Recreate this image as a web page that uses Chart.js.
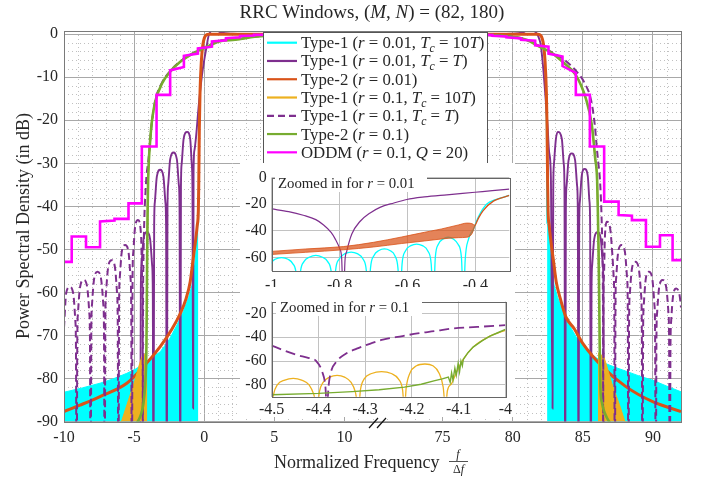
<!DOCTYPE html>
<html><head><meta charset="utf-8">
<script src="https://cdn.jsdelivr.net/npm/chart.js@4.4.1/dist/chart.umd.min.js"></script>
<style>
html,body{margin:0;padding:0;background:#fff;}
#wrap{position:relative;width:702px;height:478px;overflow:hidden;background:#fff;}
canvas{position:absolute;display:block;}
</style></head><body>
<div id="wrap">
<canvas id="main" width="702" height="478" style="left:0;top:0;width:702px;height:478px"></canvas>
<canvas id="in1" width="275" height="128" style="left:240px;top:163px;width:275px;height:128px"></canvas>
<canvas id="in2" width="275" height="130" style="left:240px;top:287px;width:275px;height:130px"></canvas>
</div>
<script>
// ===================== DATA (frequency f in units of Δf, PSD in dB) =====================
const xTickValues = [-10, -5, 0, 5, 10, 75, 80, 85, 90];
const yTickValues = [0, -10, -20, -30, -40, -50, -60, -70, -80, -90];

// Type-1 (r=0.01, Tc=10T): dense side-lobes drawn as filled envelope + main-lobe edges
const cyanFillLeft = [[-10,-83.2],[-8.7,-82.2],[-7.43,-81.1],[-6.5,-80.1],[-5.52,-78.8],[-4.9,-77.8],[-4.45,-76.9],[-4.0,-75.8],[-3.14,-73.8],[-2.5,-71.0],[-1.95,-67.6],[-1.5,-64.5],[-1.12,-61.2],[-0.87,-58.3],[-0.77,-55.8],[-0.67,-53.4],[-0.57,-49.8],[-0.47,-44.7],[-0.42,-44]];
const cyanFillRight = [[82.45,-44],[82.55,-44.7],[82.65,-49.8],[82.75,-53.4],[82.85,-55.8],[82.95,-58.3],[83.2,-61.2],[83.6,-64.5],[84.0,-67.4],[84.5,-70.2],[85.2,-73.3],[86.0,-75.3],[86.6,-76.5],[87.3,-77.4],[88.07,-78.3],[89.0,-79.4],[89.98,-80.4],[91.0,-81.8],[92,-83.1]];
const cyanLineLeft = [[-0.42,-44],[-0.406,-38.8],[-0.391,-29.4],[-0.367,-20],[-0.3,-13.4],[-0.2,-6],[-0.1,-2.5],[0,-1],[0.1,-0.3],[0.3,0],[12,0]];
const cyanLineRight = [[70,0],[81.8,0],[82.0,-0.3],[82.1,-1],[82.2,-2.5],[82.3,-6],[82.38,-13.4],[82.41,-20],[82.43,-29.4],[82.44,-38.8],[82.45,-44]];

// Type-1 (r=0.01, Tc=T)
const purpleLeft = [[-4.57,-110],[-4.52,-59],[-4.47,-53.5],[-4.33,-47.6],[-4.1,-46],[-3.86,-47.6],[-3.72,-53.5],[-3.67,-59],[-3.62,-110],
  [-3.57,-44.5],[-3.52,-39],[-3.38,-33.1],[-3.14,-31.5],[-2.91,-33.1],[-2.77,-39],[-2.72,-44.5],[-2.67,-110],
  [-2.62,-40.5],[-2.57,-35],[-2.43,-29.1],[-2.19,-27.5],[-1.95,-29.1],[-1.81,-35],[-1.76,-40.5],[-1.71,-110],
  [-1.66,-35.7],[-1.61,-30.2],[-1.47,-24.3],[-1.22,-22.7],[-1.0,-24.3],[-0.89,-30.2],[-0.84,-35.7],[-0.79,-87],
  [-0.76,-32],[-0.7,-27],[-0.57,-23.4],[-0.41,-17.2],[-0.16,-9.5],[0,-6],[0.19,-2.5],[0.3,-0.5],[0.45,0.6],[0.7,1.2],[1.2,0.4],[2,0.1],[4,0],[12,0]];
const purpleRight = [[70,0],[78,0],[79.9,0.1],[80.7,0.4],[81.2,1.2],[81.5,0.8],[81.75,0],[81.9,-1.2],[82.0,-2.5],[82.15,-7],[82.31,-13.4],[82.48,-21],[82.6,-27.5],[82.72,-33],[82.84,-87],
  [82.89,-35.7],[82.94,-30.2],[83.08,-24.3],[83.22,-22.7],[83.5,-24.3],[83.64,-30.2],[83.69,-35.7],[83.74,-110],
  [83.79,-40.7],[83.84,-35.2],[83.98,-29.3],[84.21,-27.7],[84.45,-29.3],[84.59,-35.2],[84.64,-40.7],[84.69,-110],
  [84.74,-44.3],[84.79,-38.8],[84.92,-32.9],[85.13,-31.3],[85.35,-32.9],[85.47,-38.8],[85.52,-44.3],[85.57,-110],
  [85.62,-59],[85.67,-53.5],[85.81,-47.6],[86.05,-46],[86.28,-47.6],[86.42,-53.5],[86.47,-59],[86.52,-110]];

// Type-2 (r=0.01)
const orangeLeft = [[-10,-87.7],[-8.86,-86.2],[-7.43,-84.2],[-5.52,-81.1],[-4.34,-77.3],[-3.14,-72.6],[-2.3,-68.5],[-1.71,-64.9],[-1.3,-61.5],[-1.0,-57.5],[-0.8,-52.5],[-0.6,-47.5],[-0.5,-44.5],[-0.42,-41],[-0.39,-35],[-0.35,-22],[-0.3,-13.5],[-0.2,-6],[-0.1,-2.5],[0,-1],[0.1,-0.3],[0.3,0],[12,0]];
const orangeRight = [[70,0],[81.8,0],[82.0,-0.3],[82.1,-1],[82.2,-2.5],[82.3,-6],[82.4,-13.5],[82.45,-22],[82.49,-35],[82.52,-41],[82.6,-44.5],[82.7,-47.5],[82.9,-52.5],[83.1,-57.5],[83.4,-61.5],[83.79,-65.7],[84.4,-68.5],[84.98,-71.8],[86.4,-77.3],[88.07,-81.9],[89.98,-85.4],[92,-87.7]];

// Type-1 (r=0.1, Tc=10T): filled side-lobe region + main-lobe line
const yellowFillLeft = [[-6.1,-92],[-5.5,-86],[-5.0,-81],[-4.6,-76.5],[-4.45,-75],[-4.3,-74.5],[-4.15,-74],[-4.06,-74]];
const yellowFillRight = [[86.08,-74],[86.3,-74.5],[86.5,-75],[86.65,-76.5],[87.05,-81],[87.6,-86],[88.2,-92]];
const yellowLineLeft = [[-4.1,-62],[-4.069,-48.3],[-4.034,-39.3],[-4.0,-34.2],[-3.95,-29.5],[-3.85,-24.5],[-3.74,-20.5],[-3.5,-15.7],[-3.0,-11.4],[-2.43,-8.7],[-1.71,-6.4],[-0.76,-4.4],[0.19,-2.9],[1.14,-1.6],[2.2,-1.3],[3.6,-0.6],[5,-0.2],[7,-0.05],[12,0]];
const yellowLineRight = [[70,0],[75,0],[77,-0.05],[78.5,-0.2],[79.9,-0.6],[80.96,-1.3],[81.9,-2.9],[82.86,-4.5],[83.55,-6.4],[84.5,-9.5],[85.21,-14.9],[85.64,-21.1],[85.88,-28.8],[86.02,-34],[86.07,-41],[86.12,-50],[86.15,-62]];

// Type-1 (r=0.1, Tc=T) dashed
const dashedLeft = [[-10,-68.2],[-9.85,-60.3],[-9.59,-58.7],[-9.34,-60.3],[-9.2,-66.2],[-9.15,-71.7],[-9.1,-110],
  [-9.05,-70.1],[-9.0,-64.6],[-8.85,-58.7],[-8.6,-57.1],[-8.35,-58.7],[-8.2,-64.6],[-8.15,-70.1],[-8.1,-110],
  [-8.05,-68.2],[-8.0,-62.7],[-7.85,-56.8],[-7.61,-55.2],[-7.36,-56.8],[-7.2,-62.7],[-7.15,-68.2],[-7.1,-110],
  [-7.05,-65.5],[-7.0,-60],[-6.85,-54.1],[-6.61,-52.5],[-6.37,-54.1],[-6.22,-60],[-6.17,-65.5],[-6.12,-110],
  [-6.07,-62],[-6.02,-56.5],[-5.88,-50.6],[-5.64,-49],[-5.4,-50.6],[-5.26,-56.5],[-5.21,-62],[-5.16,-110],
  [-5.11,-56.2],[-5.06,-50.7],[-4.93,-44.8],[-4.72,-43.2],[-4.5,-47],[-4.447,-54.8],[-4.405,-59.9],[-4.39,-69],[-4.38,-110],
  [-4.37,-70],[-4.36,-60],[-4.318,-49.6],[-4.262,-41.9],[-4.188,-36.7],[-4.118,-32.9],[-4.0,-29.8],[-3.9,-26.5],[-3.75,-21],[-3.5,-15.5],[-3.0,-11.2],[-2.43,-8.6],[-1.71,-6.3],[-0.76,-4.3],[0.19,-2.8],[1.14,-1.5],[2.2,-1.2],[3.6,-0.55],[5,-0.2],[7,-0.05],[12,0]];
const dashedRight = [[70,0],[75,0],[77,-0.05],[78.5,-0.2],[79.9,-0.55],[80.96,-1.2],[81.91,-2.8],[82.86,-4.3],[83.81,-6.3],[84.53,-8.6],[85.1,-11.2],[85.6,-15.5],[85.85,-21],[86.0,-26.5],[86.1,-29.8],[86.2,-32.9],[86.27,-36.7],[86.33,-41.9],[86.39,-49.6],[86.43,-60],[86.44,-70],[86.45,-110],
  [86.46,-69],[86.475,-59.9],[86.52,-54.8],[86.57,-47.5],[86.72,-43.6],[86.95,-45.2],[87.1,-51],[87.2,-56.5],[87.24,-62],[87.28,-110],
  [87.33,-62],[87.38,-56.5],[87.52,-50.6],[87.76,-49],[88.0,-50.6],[88.15,-56.5],[88.2,-62],[88.25,-110],
  [88.3,-65.9],[88.35,-60.4],[88.5,-54.5],[88.74,-52.9],[88.99,-54.5],[89.15,-60.4],[89.2,-65.9],[89.25,-110],
  [89.3,-68.2],[89.35,-62.7],[89.49,-56.8],[89.71,-55.2],[89.95,-56.8],[90.1,-62.7],[90.15,-68.2],[90.2,-110],
  [90.25,-70.1],[90.3,-64.6],[90.45,-58.7],[90.68,-57.1],[90.94,-58.7],[91.1,-64.6],[91.15,-70.1],[91.2,-110],
  [91.25,-72.1],[91.3,-66.6],[91.44,-60.7],[91.66,-59.1],[91.9,-60.7],[92,-63.5]];

// Type-2 (r=0.1)
const greenLeft = [[-5.2,-92],[-4.5,-88.3],[-4.33,-85.7],[-4.22,-82],[-4.15,-77],[-4.12,-72],[-4.1,-64],[-4.08,-56],[-4.05,-45],[-4.03,-39.5],[-4.0,-34],[-3.95,-29.5],[-3.85,-24.5],[-3.74,-20.5],[-3.5,-15.7],[-3.0,-11.4],[-2.43,-8.7],[-1.71,-6.4],[-0.76,-4.4],[0.19,-2.9],[1.14,-1.6],[2.2,-1.3],[3.6,-0.6],[5,-0.2],[7,-0.05],[12,0]];
const greenRight = [[70,0],[75,0],[77,-0.05],[78.5,-0.2],[79.9,-0.6],[80.96,-1.3],[81.9,-2.9],[82.86,-4.5],[83.55,-6.4],[84.5,-9.5],[85.21,-14.9],[85.64,-21.1],[85.88,-28.8],[86.02,-34],[86.07,-41],[86.12,-50],[86.17,-62],[86.2,-72],[86.25,-82],[86.35,-85.5],[86.6,-88.3],[87.3,-92]];

// ODDM (r=0.1, Q=20) staircase
const oddmLeft = [[-10,-52.9],[-9.45,-52.9],[-9.45,-47],[-8.43,-47],[-8.43,-49.5],[-7.43,-49.5],[-7.43,-43.5],[-6.4,-43.3],[-6.4,-42.9],[-5.4,-42.9],[-5.4,-39.3],[-4.45,-39.3],[-4.45,-26.1],[-3.4,-26.1],[-3.4,-14.1],[-2.43,-14.1],[-2.43,-8.4],[-1.45,-7.6],[-1.45,-5.0],[-0.45,-4.5],[-0.45,-3.3],[0.55,-2.9],[0.55,-1.7],[1.55,-1.4],[1.55,-0.9],[2.55,-0.7],[2.55,-0.4],[3.55,-0.3],[3.55,-0.15],[4.55,-0.1],[4.55,0],[12,0]];
const oddmRight = [[70,0],[77.55,0],[77.55,-0.1],[78.55,-0.2],[78.55,-0.35],[79.55,-0.5],[79.55,-0.7],[80.6,-1.0],[80.6,-1.3],[81.6,-1.5],[81.6,-2.6],[82.55,-2.9],[82.55,-4.5],[83.55,-5.2],[83.55,-7.4],[84.5,-9.0],[84.5,-14.1],[85.5,-14.1],[85.5,-26.1],[86.52,-26.1],[86.52,-38.9],[87.55,-38.9],[87.55,-42],[88.5,-42.2],[88.5,-43.2],[89.5,-43.2],[89.5,-49.4],[90.5,-49.4],[90.5,-46.7],[91.4,-46.7],[91.4,-52.5],[92,-52.5]];

// ---------- Inset 1: zoom for r = 0.01 ----------
const in1XTicks = [-1, -0.8, -0.6, -0.4];
const in1YTicks = [0, -20, -40, -60];
const in1Purple = [[-1,-23.5],[-0.95,-25.5],[-0.907,-28.2],[-0.87,-31.5],[-0.848,-35.3],[-0.825,-41],[-0.813,-45.9],[-0.8,-53],[-0.794,-60],[-0.789,-95],[-0.784,-62],[-0.779,-55.3],[-0.764,-42.3],[-0.74,-32.9],[-0.71,-26.5],[-0.681,-22.3],[-0.64,-19],[-0.602,-16.4],[-0.55,-14.5],[-0.484,-12.9],[-0.401,-11],[-0.35,-9.8],[-0.3,-8.7]];
const in1Cyan = [[-1.02,-95],[-1.013,-72],[-1.0,-63.5],[-0.99,-61.2],[-0.971,-60],[-0.952,-61.2],[-0.938,-64.5],[-0.928,-72],[-0.922,-95],[-0.916,-72],[-0.905,-63],[-0.888,-59.5],[-0.87,-58.3],[-0.852,-59.5],[-0.835,-63],[-0.824,-72],[-0.818,-95],[-0.812,-70],[-0.801,-61],[-0.784,-57],[-0.766,-55.8],[-0.748,-57],[-0.731,-61],[-0.721,-70],[-0.715,-95],[-0.709,-68],[-0.699,-58.5],[-0.684,-54.6],[-0.668,-53.4],[-0.652,-54.6],[-0.637,-58.5],[-0.628,-68],[-0.622,-95],[-0.616,-65],[-0.606,-55],[-0.59,-51],[-0.573,-49.8],[-0.556,-51],[-0.54,-55],[-0.53,-65],[-0.524,-95],[-0.518,-60],[-0.509,-50],[-0.495,-46],[-0.48,-44.7],[-0.465,-46],[-0.451,-50],[-0.441,-60],[-0.435,-95],[-0.43,-62],[-0.42,-46],[-0.406,-38.8],[-0.391,-29.4],[-0.367,-20],[-0.34,-16.5],[-0.3,-13.4]];
const in1OrangeTop = [[-1,-55.3],[-0.9,-53.5],[-0.789,-51.7],[-0.7,-48.5],[-0.617,-44.5],[-0.55,-41],[-0.5,-38.5],[-0.45,-35.5],[-0.425,-34.1],[-0.41,-34.5],[-0.401,-36]];
const in1OrangeBottom = [[-1,-57.6],[-0.9,-56],[-0.789,-54.1],[-0.7,-52],[-0.617,-49.4],[-0.55,-47.5],[-0.5,-46],[-0.45,-45],[-0.425,-44.7],[-0.41,-42],[-0.401,-36]];
const in1OrangeEdge = [[-0.401,-36],[-0.39,-30],[-0.377,-24.7],[-0.347,-17.6],[-0.3,-13.4]];

// ---------- Inset 2: zoom for r = 0.1 ----------
const in2XTicks = [-4.5, -4.4, -4.3, -4.2, -4.1, -4];
const in2YTicks = [-20, -40, -60, -80];
const in2Dashed = [[-4.5,-47.1],[-4.447,-54.8],[-4.42,-57.5],[-4.405,-59.9],[-4.392,-68.9],[-4.385,-81.9],[-4.382,-100],[-4.378,-80],[-4.374,-70.2],[-4.36,-59.9],[-4.34,-53.5],[-4.318,-49.6],[-4.29,-45.5],[-4.262,-41.9],[-4.22,-39],[-4.188,-36.7],[-4.15,-34.8],[-4.118,-32.9],[-4.06,-31.3],[-4.0,-29.8]];
const in2Yellow = [[-4.5,-100],[-4.496,-88],[-4.488,-80],[-4.472,-76],[-4.454,-74.6],[-4.436,-76],[-4.42,-80],[-4.41,-88],[-4.402,-100],[-4.398,-86],[-4.39,-78],[-4.376,-73.5],[-4.36,-72],[-4.344,-73.5],[-4.33,-78],[-4.321,-86],[-4.314,-100],[-4.31,-84],[-4.302,-75],[-4.286,-70.5],[-4.265,-68.9],[-4.244,-70.5],[-4.229,-75],[-4.22,-84],[-4.216,-100],[-4.212,-82],[-4.204,-70],[-4.19,-64],[-4.172,-62.5],[-4.155,-64],[-4.142,-70],[-4.133,-82],[-4.128,-100],[-4.124,-85],[-4.115,-79],[-4.104,-68.9],[-4.09,-58.6],[-4.069,-48.3],[-4.034,-39.3],[-4.0,-34.2]];
const in2Green = [[-4.5,-88.3],[-4.4,-87.2],[-4.328,-85.7],[-4.27,-84.2],[-4.216,-81.9],[-4.18,-79.5],[-4.153,-76.7],[-4.135,-75],[-4.122,-73.5],[-4.118,-78],[-4.115,-70],[-4.112,-76],[-4.108,-66],[-4.105,-72],[-4.101,-62],[-4.098,-69],[-4.095,-60],[-4.092,-64],[-4.09,-58.6],[-4.08,-53],[-4.069,-48.3],[-4.05,-43],[-4.034,-39.3],[-4.015,-36],[-4.0,-33.4]];

// legend labels (rich text parts: n = normal, i = italic, s = italic subscript)
const legendLabels = [
  [['Type-1 (','n'],['r','i'],[' = 0.01, ','n'],['T','i'],['c','s'],[' = 10','n'],['T','i'],[')','n']],
  [['Type-1 (','n'],['r','i'],[' = 0.01, ','n'],['T','i'],['c','s'],[' = ','n'],['T','i'],[')','n']],
  [['Type-2 (','n'],['r','i'],[' = 0.01)','n']],
  [['Type-1 (','n'],['r','i'],[' = 0.1, ','n'],['T','i'],['c','s'],[' = 10','n'],['T','i'],[')','n']],
  [['Type-1 (','n'],['r','i'],[' = 0.1, ','n'],['T','i'],['c','s'],[' = ','n'],['T','i'],[')','n']],
  [['Type-2 (','n'],['r','i'],[' = 0.1)','n']],
  [['ODDM (','n'],['r','i'],[' = 0.1, ','n'],['Q','i'],[' = 20)','n']]
];
const legendColors = ['#00FFFF','#7E2F8E','#D95319','#EDB120','#7E2F8E','#77AC30','#FF00FF'];
const legendDashed = [false,false,false,false,true,false,false];

// ===================== RENDERING =====================
const FONT = "'Liberation Serif', 'Times New Roman', serif";
const TXT = '#262626';
const BREAK_OFFSET = 58; // right segment 70..92 drawn right after left segment -10..12
const disp = f => (f > 40 ? f - BREAK_OFFSET : f);
const toXY = arr => arr.map(([f, d]) => ({x: disp(f), y: d}));

function fnt(style, size) { return (style === 'i' || style === 's' ? 'italic ' : '') + size + 'px ' + FONT; }
function drawRich(ctx, parts, x, y, size, align) {
  let w = 0;
  const ws = parts.map(p => { const sz = p[1] === 's' ? size * 0.7 : size; ctx.font = fnt(p[1], sz); const m = ctx.measureText(p[0]).width; w += m; return m; });
  let cx = align === 'center' ? x - w / 2 : (align === 'right' ? x - w : x);
  ctx.textAlign = 'left'; ctx.textBaseline = 'alphabetic';
  parts.forEach((p, i) => { const sz = p[1] === 's' ? size * 0.7 : size; ctx.font = fnt(p[1], sz); ctx.fillText(p[0], cx, y + (p[1] === 's' ? size * 0.22 : 0)); cx += ws[i]; });
  return w;
}

function line(data, color, width, order, extra) {
  return Object.assign({data: toXY(data), borderColor: color, backgroundColor: color, borderWidth: width,
    pointRadius: 0, pointHoverRadius: 0, showLine: true, fill: false, cubicInterpolationMode: 'monotone', order: order}, extra || {});
}

const majorDisp = xTickValues.map(disp);

const mainDeco = {
  id: 'mainDeco',
  beforeDatasetsDraw(chart) {
    const {ctx, chartArea: a, scales: {x, y}} = chart;
    ctx.save();
    ctx.strokeStyle = '#c0c0c0'; ctx.lineWidth = 1; ctx.setLineDash([1, 3]);
    for (let d = -9; d < 34; d++) {
      if (majorDisp.includes(d)) continue;
      const px = Math.round(x.getPixelForValue(d)) + 0.5;
      ctx.beginPath(); ctx.moveTo(px, a.top); ctx.lineTo(px, a.bottom); ctx.stroke();
    }
    for (let v = -88; v < 0; v += 2) {
      if (v % 10 === 0) continue;
      const py = Math.round(y.getPixelForValue(v)) + 0.5;
      ctx.beginPath(); ctx.moveTo(a.left, py); ctx.lineTo(a.right, py); ctx.stroke();
    }
    ctx.restore();
  },
  afterDraw(chart) {
    const {ctx, chartArea: a} = chart;
    ctx.save();
    // axes box
    ctx.strokeStyle = '#7a7a7a'; ctx.lineWidth = 1; ctx.setLineDash([]);
    ctx.strokeRect(Math.round(a.left) + 0.5, Math.round(a.top) + 0.5, Math.round(a.right - a.left), Math.round(a.bottom - a.top));
    // axis break marks
    ctx.strokeStyle = '#111'; ctx.lineWidth = 1.2;
    ctx.beginPath(); ctx.moveTo(369, 428); ctx.lineTo(378, 418); ctx.moveTo(377, 428); ctx.lineTo(386, 418); ctx.stroke();
    // title
    ctx.fillStyle = TXT;
    drawRich(ctx, [['RRC Windows, (','n'],['M','i'],[', ','n'],['N','i'],[') = (82, 180)','n']], 372, 18, 19, 'center');
    // y label
    ctx.save(); ctx.translate(29, 226); ctx.rotate(-Math.PI / 2);
    ctx.font = fnt('n', 18); ctx.textAlign = 'center'; ctx.textBaseline = 'alphabetic';
    ctx.fillText('Power Spectral Density (in dB)', 0, 0);
    ctx.restore();
    // x label with fraction
    ctx.font = fnt('n', 18); ctx.textAlign = 'left'; ctx.textBaseline = 'alphabetic';
    ctx.fillText('Normalized Frequency', 274, 468);
    ctx.font = fnt('i', 12); ctx.textAlign = 'center';
    ctx.fillText('f', 458, 458);
    ctx.lineWidth = 0.8; ctx.strokeStyle = TXT;
    ctx.beginPath(); ctx.moveTo(449, 461.5); ctx.lineTo(468, 461.5); ctx.stroke();
    drawRich(ctx, [['Δ','n'],['f','i']], 458.5, 473, 12, 'center');
    // legend
    const lx = 263.5, ly = 32.5, lw = 224, lh = 131;
    ctx.fillStyle = '#fff'; ctx.fillRect(lx, ly, lw, lh);
    ctx.strokeStyle = '#555'; ctx.lineWidth = 1; ctx.strokeRect(lx, ly, lw, lh);
    legendLabels.forEach((parts, i) => {
      const cy = 42.7 + i * 18.27;
      ctx.strokeStyle = legendColors[i]; ctx.lineWidth = 2.2;
      ctx.setLineDash(legendDashed[i] ? [7, 4] : []);
      ctx.beginPath(); ctx.moveTo(267, cy); ctx.lineTo(297, cy); ctx.stroke();
      ctx.setLineDash([]);
      ctx.fillStyle = TXT;
      drawRich(ctx, parts, 301, cy + 5.5, 16.8, 'left');
    });
    ctx.restore();
  }
};

new Chart(document.getElementById('main'), {
  type: 'scatter',
  data: { datasets: [
    line(cyanFillLeft, '#00FFFF', 1, 30, {fill: 'start', cubicInterpolationMode: 'default', tension: 0}),
    line(cyanFillRight, '#00FFFF', 1, 30, {fill: 'start', cubicInterpolationMode: 'default', tension: 0}),
    line(cyanLineLeft.concat(cyanLineRight), '#00FFFF', 1.5, 29),
    line(purpleLeft.concat(purpleRight), '#7E2F8E', 1.9, 28),
    line(orangeLeft.concat(orangeRight), '#D95319', 3, 27),
    line(yellowFillLeft, '#EDB120', 1, 26, {fill: 'start', cubicInterpolationMode: 'default', tension: 0}),
    line(yellowFillRight, '#EDB120', 1, 26, {fill: 'start', cubicInterpolationMode: 'default', tension: 0}),
    line(yellowLineLeft.concat(yellowLineRight), '#EDB120', 1.5, 25),
    line(dashedLeft.concat(dashedRight), '#7E2F8E', 2, 24, {borderDash: [7, 4]}),
    line(greenLeft.concat(greenRight), '#77AC30', 2.6, 23),
    line(oddmLeft.concat(oddmRight), '#FF00FF', 2.6, 22, {cubicInterpolationMode: 'default', tension: 0})
  ]},
  options: {
    responsive: false, animation: false, devicePixelRatio: 1,
    layout: {padding: {left: 0, right: 21, top: 31, bottom: 0}},
    plugins: {legend: {display: false}, tooltip: {enabled: false}, title: {display: false}},
    scales: {
      x: {type: 'linear', min: -10, max: 34,
        afterBuildTicks: s => { s.ticks = xTickValues.map(v => ({value: disp(v)})); },
        afterFit: s => { s.height = 56.5; },
        grid: {color: '#a8a8a8', lineWidth: 1, drawTicks: false},
        border: {display: false},
        ticks: {padding: 7, autoSkip: false, maxRotation: 0, color: TXT, font: {family: FONT, size: 16},
          callback: (v, i) => String(xTickValues[i])}
      },
      y: {type: 'linear', min: -90, max: 0.75,
        afterBuildTicks: s => { s.ticks = yTickValues.map(v => ({value: v})); },
        afterFit: s => { s.width = 64; },
        grid: {color: '#a8a8a8', lineWidth: 1, drawTicks: false},
        border: {display: false},
        ticks: {padding: 6, autoSkip: false, color: TXT, font: {family: FONT, size: 16},
          callback: v => String(v)}
      }
    }
  },
  plugins: [mainDeco]
});

// ---------- insets ----------
function insetDeco(titleParts, tx, tBase, box) {
  return {
    id: 'insetDeco',
    beforeDraw(chart) { const c = chart.ctx; c.save(); c.fillStyle = '#fff'; c.fillRect(0, 0, chart.width, chart.height); c.restore(); },
    afterDraw(chart) {
      const {ctx, chartArea: a} = chart;
      ctx.save();
      ctx.strokeStyle = '#666'; ctx.lineWidth = 1;
      ctx.strokeRect(Math.round(a.left) + 0.5, Math.round(a.top) + 0.5, Math.round(a.right - a.left), Math.round(a.bottom - a.top));
      ctx.fillStyle = '#fff'; ctx.fillRect(box[0], box[1], box[2], box[3]);
      ctx.fillStyle = TXT;
      drawRich(ctx, titleParts, tx, tBase, 14.8, 'left');
      ctx.restore();
    }
  };
}
function insetChart(id, datasets, xr, yr, xt, yt, pad, yW, xH, xPad, deco) {
  return new Chart(document.getElementById(id), {
    type: 'scatter',
    data: {datasets: datasets},
    options: {
      responsive: false, animation: false, devicePixelRatio: 1,
      layout: {padding: pad},
      plugins: {legend: {display: false}, tooltip: {enabled: false}},
      scales: {
        x: {type: 'linear', min: xr[0], max: xr[1],
          afterBuildTicks: s => { s.ticks = xt.map(v => ({value: v})); },
          afterFit: s => { s.height = xH; },
          grid: {color: '#c2c2c2', drawTicks: false}, border: {display: false},
          ticks: {padding: xPad, autoSkip: false, maxRotation: 0, color: TXT, font: {family: FONT, size: 16}, callback: (v, i) => String(xt[i])}},
        y: {type: 'linear', min: yr[0], max: yr[1],
          afterBuildTicks: s => { s.ticks = yt.map(v => ({value: v})); },
          afterFit: s => { s.width = yW; },
          grid: {color: '#c2c2c2', drawTicks: false}, border: {display: false},
          ticks: {padding: 5, autoSkip: false, color: TXT, font: {family: FONT, size: 16}, callback: (v, i) => String(yt[i])}}
      }
    },
    plugins: [deco]
  });
}
function iline(data, color, width, order, extra) {
  return Object.assign({data: data.map(([x, y]) => ({x, y})), borderColor: color, backgroundColor: color, borderWidth: width,
    pointRadius: 0, showLine: true, fill: false, cubicInterpolationMode: 'monotone', order: order}, extra || {});
}

insetChart('in1', [
  iline(in1Cyan, '#00FFFF', 1.3, 5),
  iline(in1Purple, '#7E2F8E', 1.2, 4),
  iline(in1OrangeTop, '#D95319', 0.8, 3, {fill: '+1', backgroundColor: 'rgba(217,83,25,0.72)'}),
  iline(in1OrangeBottom, '#D95319', 0.8, 2),
  iline(in1OrangeEdge, '#D95319', 1.3, 1)
], [-1, -0.3], [-70, 0], in1XTicks, in1YTicks, {left: 0, right: 5.7, top: 8.7, bottom: 0}, 31.7, 20, 5,
  insetDeco([['Zoomed in for ','n'],['r','i'],[' = 0.01','n']], 38, 25, [35, 11, 152, 18]));

insetChart('in2', [
  iline(in2Yellow, '#EDB120', 1.3, 3),
  iline(in2Dashed, '#7E2F8E', 1.8, 2, {borderDash: [10, 5]}),
  iline(in2Green, '#77AC30', 1.4, 1, {cubicInterpolationMode: 'default', tension: 0})
], [-4.5, -4], [-90, -10], in2XTicks, in2YTicks, {left: 0, right: 5.7, top: 6.7, bottom: 0}, 31.7, 20.3, 3,
  insetDeco([['Zoomed in for ','n'],['r','i'],[' = 0.1','n']], 40, 24.7, [36, 11, 146, 18]));
</script>
</body></html>
